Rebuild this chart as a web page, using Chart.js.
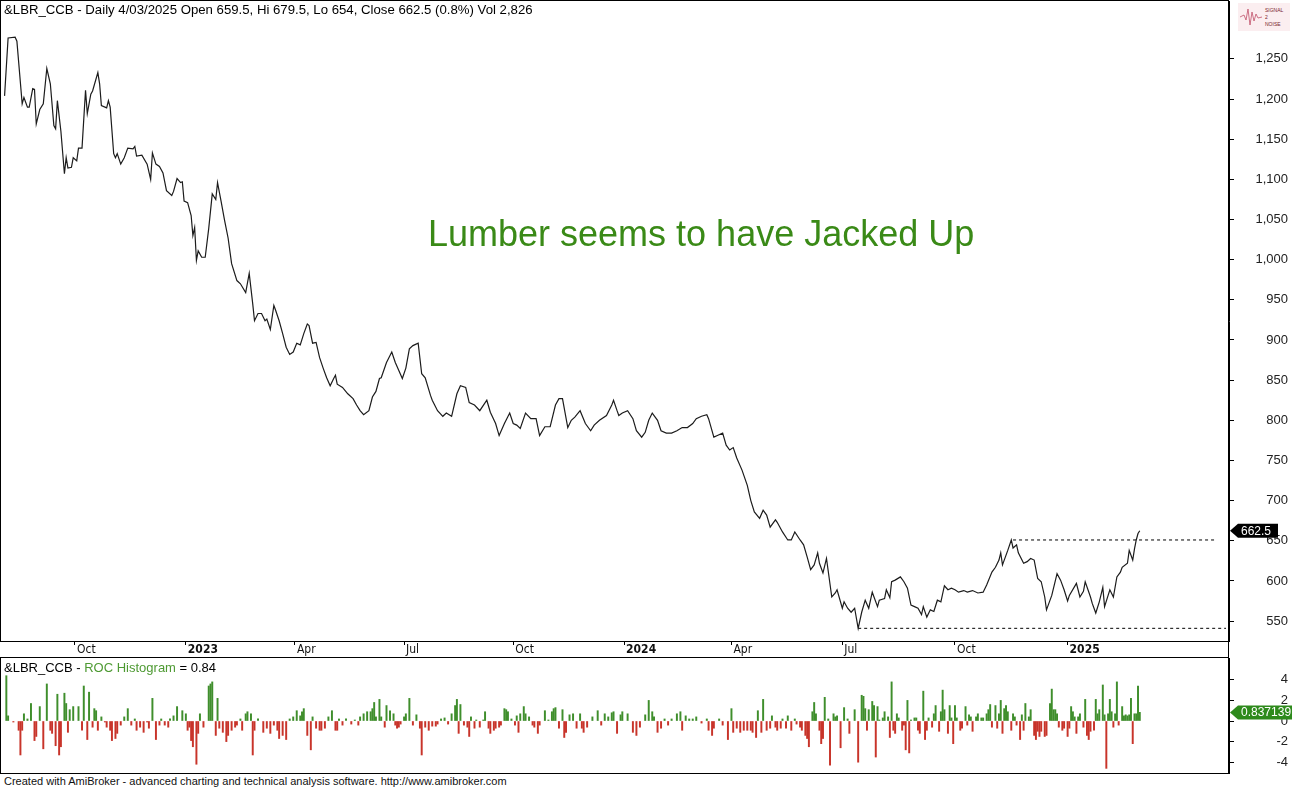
<!DOCTYPE html>
<html>
<head>
<meta charset="utf-8">
<title>&amp;LBR_CCB Daily</title>
<script src="https://cdn.jsdelivr.net/npm/chart.js@4.4.1/dist/chart.umd.min.js"></script>
<style>
  html, body { margin: 0; padding: 0; background: #fff; }
  body { width: 1292px; height: 789px; position: relative; overflow: hidden;
         font-family: "Liberation Sans", Arial, sans-serif; }
  #priceChart { position: absolute; left: 0; top: 0; }
  #rocChart { position: absolute; left: 0; top: 657px; }
  .txt { position: absolute; white-space: nowrap; color: #000; }
  #header { left: 4px; top: 2px; font-size: 13.2px; }
  #rocTitle { left: 4px; top: 660px; font-size: 13px; }
  #rocTitle .g { color: #4e9a33; }
  #note { left: 428px; top: 213px; font-size: 36px; color: #3a8a17; }
  #footer { left: 4px; top: 775px; font-size: 11px; color: #111; }
  #logo { position: absolute; left: 1238px; top: 3px; width: 52px; height: 28px; }
</style>
</head>
<body>
<canvas id="priceChart" width="1292" height="658"></canvas>
<canvas id="rocChart" width="1292" height="117"></canvas>

<div id="header" class="txt">&amp;LBR_CCB - Daily 4/03/2025 Open 659.5, Hi 679.5, Lo 654, Close 662.5 (0.8%) Vol 2,826</div>
<div id="rocTitle" class="txt">&amp;LBR_CCB - <span class="g">ROC Histogram</span> = 0.84</div>
<div id="note" class="txt">Lumber seems to have Jacked Up</div>
<div id="footer" class="txt">Created with AmiBroker - advanced charting and technical analysis software. http://www.amibroker.com</div>
<svg id="logo" viewBox="0 0 52 28">
  <rect x="0" y="0" width="52" height="28" fill="#fbeef0"/>
  <polyline points="2,14 6,12 8,17 10,6 12,22 14,9 16,18 18,11 20,15 24,14" fill="none" stroke="#c0506a" stroke-width="0.8"/>
  <text x="27" y="9" font-size="5" fill="#7a1c2c" font-family="Liberation Sans">SIGNAL</text>
  <text x="27" y="16" font-size="5" fill="#7a1c2c" font-family="Liberation Sans">2</text>
  <text x="27" y="23" font-size="5" fill="#7a1c2c" font-family="Liberation Sans">NOISE</text>
</svg>

<script>
// bars are trading days counted from 4 Aug 2022 (bar 0)
const xMin = -1.6;
const xMax = 696.7;

// first trading day of each quarter, and its label on the date axis
const monthTickBars = [41, 104, 166, 228, 290, 353, 414, 477, 541, 605];
const monthTickLabels = ['Oct', '2023', 'Apr', 'Jul', 'Oct', '2024', 'Apr', 'Jul', 'Oct', '2025'];

// closing price
const priceBars = [
  1, 3, 7, 8, 11, 12, 14, 15, 17, 18,
  19, 21, 23, 25, 27, 29, 30, 31, 33, 35,
  36, 37, 39, 40, 42, 43, 45, 47, 48, 50,
  51, 54, 55, 56, 59, 60, 61, 63, 64, 65,
  67, 69, 71, 74, 75, 76, 79, 82, 84, 85,
  87, 89, 91, 93, 96, 97, 99, 101, 102, 103,
  105, 107, 108, 109, 110, 111, 113, 115, 117, 119,
  121, 122, 124, 126, 128, 130, 133, 135, 138, 140,
  142, 143, 145, 147, 149, 150, 152, 154, 155, 157,
  159, 161, 163, 165, 167, 169, 171, 173, 174, 176,
  178, 180, 182, 184, 186, 188, 189, 190, 193, 196,
  199, 201, 203, 205, 208, 210, 212, 214, 215, 218,
  221, 223, 225, 227, 229, 231, 233, 236, 238, 240,
  243, 244, 247, 250, 252, 255, 258, 260, 263, 265,
  268, 271, 275, 277, 280, 282, 285, 288, 290, 292,
  294, 297, 300, 303, 305, 308, 311, 314, 316, 318,
  321, 323, 325, 328, 331, 334, 336, 339, 343, 346,
  347, 349, 350, 352, 355, 358, 360, 363, 365, 367,
  369, 372, 374, 377, 380, 383, 386, 389, 392, 394,
  397, 400, 401, 404, 406, 409, 411, 413, 415, 417,
  420, 423, 425, 427, 430, 432, 434, 436, 439, 440,
  443, 446, 448, 450, 453, 455, 457, 459, 461, 463,
  464, 466, 468, 471, 473, 474, 477, 478, 480, 482,
  484, 486, 488, 490, 492, 494, 497, 498, 501, 502,
  504, 505, 507, 510, 512, 514, 516, 518, 520, 522,
  523, 525, 527, 529, 531, 533, 535, 537, 539, 541,
  543, 546, 548, 551, 554, 557, 559, 562, 564, 566,
  567, 568, 571, 573, 574, 576, 577, 580, 582, 584,
  586, 588, 590, 592, 593, 596, 599, 601, 603, 605,
  606, 610, 612, 614, 615, 618, 619, 621, 623, 625,
  626, 629, 631, 633, 635, 636, 639, 640, 642, 643,
  644, 645, 646
];
const priceClose = [
  1204, 1276, 1277, 1272, 1194, 1202, 1190, 1190, 1213, 1212,
  1169, 1187, 1194, 1238, 1219, 1167, 1163, 1198, 1160, 1107,
  1127, 1114, 1115, 1127, 1123, 1139, 1139, 1211, 1182, 1206,
  1210, 1233, 1219, 1192, 1189, 1198, 1190, 1132, 1127, 1132,
  1119, 1127, 1139, 1138, 1141, 1129, 1130, 1119, 1100, 1133,
  1119, 1116, 1108, 1086, 1080, 1085, 1101, 1096, 1097, 1073,
  1071, 1055, 1030, 1040, 999, 1011, 1003, 1003, 1039, 1082,
  1075, 1096, 1073, 1049, 1027, 995, 974, 970, 959, 983,
  945, 924, 933, 933, 924, 926, 913, 943, 937, 924,
  908, 891, 882, 885, 896, 894, 908, 920, 918, 896,
  897, 878, 865, 853, 843, 852, 856, 845, 841, 833,
  827, 819, 812, 807, 812, 829, 836, 852, 853, 872,
  885, 872, 862, 852, 865, 889, 893, 896, 858, 853,
  831, 825, 812, 805, 809, 805, 833, 843, 841, 822,
  819, 812, 825, 810, 796, 781, 796, 809, 796, 794,
  790, 809, 802, 802, 781, 792, 792, 819, 827, 827,
  791, 800, 804, 812, 796, 787, 794, 800, 806, 819,
  825, 812, 806, 809, 812, 802, 787, 779, 785, 800,
  809, 800, 787, 784, 784, 787, 791, 791, 796, 802,
  805, 807, 802, 779, 781, 784, 769, 763, 766, 753,
  738, 719, 700, 686, 678, 688, 682, 667, 676, 673,
  661, 651, 651, 661, 651, 645, 630, 614, 620, 635,
  622, 610, 628, 580, 585, 589, 566, 574, 566, 561,
  566, 541, 561, 576, 566, 586, 568, 576, 578, 589,
  579, 599, 601, 605, 599, 591, 570, 568, 566, 558,
  568, 555, 564, 562, 576, 574, 594, 589, 591, 589,
  586, 588, 586, 588, 585, 586, 595, 611, 617, 626,
  635, 620, 638, 651, 641, 645, 635, 622, 624, 628,
  626, 603, 599, 580, 564, 582, 609, 601, 589, 575,
  582, 597, 580, 587, 599, 580, 572, 560, 574, 592,
  568, 589, 580, 605, 611, 617, 622, 638, 626, 640,
  651, 659, 662.5
];
const lastClose = 662.5;

// dotted levels: November high and July low
const resistanceLevel = 651;
const resistanceBars = [574, 689];
const supportLevel = 541;
const supportBars = [486, 695];

const priceTicks = [550, 600, 650, 700, 750, 800, 850, 900, 950, 1000, 1050, 1100, 1150, 1200, 1250];

// one-day rate of change (%)
const rocBars = [
  2, 3, 6, 9, 10, 11, 12, 14, 16, 18,
  19, 21, 23, 25, 27, 28, 30, 31, 32, 33,
  35, 36, 37, 38, 40, 43, 45, 46, 48, 49,
  51, 52, 53, 54, 56, 58, 59, 61, 62, 64,
  65, 67, 69, 71, 73, 75, 76, 78, 80, 82,
  83, 85, 87, 89, 90, 92, 94, 95, 97, 99,
  102, 104, 105, 106, 107, 108, 110, 111, 112, 114,
  117, 118, 119, 121, 122, 123, 125, 127, 128, 130,
  132, 133, 135, 136, 138, 139, 141, 142, 143, 145,
  148, 150, 152, 154, 156, 157, 159, 161, 163, 165,
  167, 169, 170, 171, 173, 175, 176, 178, 180, 181,
  183, 185, 187, 189, 190, 191, 193, 195, 198, 200,
  202, 203, 205, 207, 209, 210, 211, 212, 214, 215,
  217, 218, 220, 222, 223, 224, 225, 226, 228, 229,
  231, 233, 235, 237, 238, 240, 242,
  244, 246, 247, 249, 251, 253, 255, 257, 258, 259,
  260, 262, 264, 265, 266, 268, 269, 271, 273, 274,
  276, 277, 279, 280, 282, 283, 285, 286, 287, 289,
  291, 292, 293, 294, 296, 297, 299, 301, 302, 304,
  305, 308, 310, 312, 313, 314, 316, 318, 319, 320,
  322, 324, 326, 328, 329, 330, 332, 335, 338, 340,
  342, 344, 346, 347, 349, 351, 352, 355, 358, 360,
  362, 365, 367, 369, 370, 372, 374, 376, 378, 380,
  383, 385, 386, 388, 390, 392, 394, 397, 400, 401,
  403, 404, 407, 409, 412, 414, 415, 417, 419, 421,
  423, 425, 426, 428, 429, 431, 432, 434, 436, 437,
  439, 440, 442, 443, 445, 446, 448, 450, 451, 453,
  454, 456, 457, 458, 460, 461, 462, 464, 465, 466,
  467, 469, 470, 472, 473, 474, 476, 478, 480, 481,
  484, 486,
  488, 489, 490, 491, 492, 494, 495, 496, 497, 498,
  500, 501, 503, 504, 505, 506, 507, 508, 509, 511,
  512, 513, 514, 515, 516, 518, 519, 520, 521, 523,
  524, 525, 526, 528, 529, 530, 532, 533, 534, 535,
  537, 538, 539, 540, 541, 542, 544, 545, 547, 548,
  549, 550, 551, 553, 554, 556, 557, 559, 560, 561,
  562, 564, 565, 566, 567, 568, 569, 570, 571, 573,
  574, 575, 576, 578, 579, 580, 581, 583, 584, 586,
  587, 588, 589, 590, 592, 593, 595, 596, 597, 598,
  599, 600, 602, 603, 605, 606, 607, 608, 609, 610,
  611, 612, 614, 615, 616, 617, 618, 620, 621, 622,
  623, 625, 626, 627, 628, 629, 630, 631, 632, 633,
  634, 636, 637, 638, 639, 640, 641, 642, 643, 644,
  645, 646
];
const rocValues = [
  4.4, 0.5, -0.1, -0.9, -3.3, -0.9, 0.7, 0.2, 1.7, -1.9,
  -1.5, 1.4, -2.7, 3.6, -0.9, -1.2, -2.4, 2.6, -3.3, -2.5,
  2.7, 1.7, -1.1, 1.1, 1.4, 1.4, -0.9, 3.4, -1.8, 2.8,
  -0.6, 1.2, 1.0, -0.9, 0.4, -0.1, -0.6, -0.9, -1.9, -1.7,
  -1.2, -0.4, 0.4, 1.2, -0.4, 0.2, -0.9, -0.6, -1.1, -0.1,
  -0.7, 2.2, -1.8, -0.4, 0.2, -0.4, -0.6, 0.2, 0.5, 1.4,
  1.0, 0.7, -0.9, -0.6, -1.9, -2.5, -4.2, -1.2, 0.7, -0.6,
  3.4, 3.6, 3.8, -1.4, 2.2, -0.7, -1.1, -2.0, -1.4, -0.9,
  -0.6, -0.4, 0.2, -0.9, 0.7, 0.9, 0.7, -3.3, -0.9, 0.2,
  -1.1, -0.7, -1.2, -0.4, -0.9, -1.7, -1.4, -1.8, 0.2, 0.4,
  1.0, 0.5, 0.9, 1.2, -1.4, -2.8, 0.4, -0.7, -0.9, -0.9,
  -0.7, 0.4, 1.0, -0.9, -0.9, 0.2, -0.4, 0.2, -0.3, 0.1,
  -0.4, 0.4, 0.7, 0.9, 0.9, 1.2, 1.8, 0.4, 2.1, 0.4,
  -0.6, 1.5, 1.0, 0.7, -0.4, -0.7, -0.6, -0.3, 0.4, 0.7,
  2.2, -0.4, 0.6, -0.7, -3.3, -0.6, -0.9,
  -0.5, -0.5, -0.3, 0.2, 0.3, -0.3, 0.7, 1.5, 2.1, -1.2,
  1.6, -0.4, -0.6, -1.5, 0.4, -0.7, 0.1, -0.6, 0.1, 0.9,
  -0.7, -1.2, -0.9, -0.7, -0.6, -0.4, 1.2, 1.1, 0.9, 0.2,
  -0.4, 0.5, -1.1, 0.7, 1.4, 0.7, 0.4, -0.4, -0.6, -1.2,
  -0.4, 1.0, 0.1, 0.9, 1.2, 1.3, -0.7, 1.1, -1.6, -1.1,
  0.6, 0.7, -0.7, 0.7, -0.7, -1.1, -0.6, 0.4, 1.0, -0.4,
  0.7, 0.4, 0.8, 0.9, -1.2, 0.6, 0.9, 0.7, -1.1, -1.4,
  -0.6, 0.6, 2.0, 0.9, 0.4, -1.1, -0.7, 0.2, -0.4, 0.2,
  0.7, 0.9, -0.9, 0.5, 0.2, 0.2, 0.4, -0.2, 0.2, -0.9,
  -1.4, -0.7, 0.2, -0.4, -1.8, 1.2, -1.1, -0.7, -1.1, -0.9,
  -0.9, -0.9, -1.1, -1.6, 1.0, -1.1, 2.1, -0.9, -0.7, 0.5,
  -0.6, -0.9, -0.7, 0.2, -0.7, 0.5, -0.9, 0.2, -0.3, -0.6,
  -0.9, -1.4, -1.7, -2.5, 0.9, 1.8, 0.7, -0.9, -2.2, -1.7,
  2.3, 0.2, -4.3, 0.7, 0.4, 0.5, -2.6, 1.3, 0.2, -1.2,
  1.1, -4.0,
  2.5, 2.4, 1.2, -0.9, 1.1, 1.9, 1.5, -3.5, 1.4, 0.1,
  0.3, 0.9, 0.4, -1.6, 3.8, -0.9, -1.2, 0.7, 0.3, -0.9,
  -0.4, -2.8, 2.0, -3.1, 0.1, 0.3, 0.3, -0.9, -1.2, 2.9,
  -1.8, -0.9, 0.3, -0.6, 0.7, 1.5, -1.0, 0.9, 3.0, 1.1,
  -1.2, 1.5, 0.3, -2.2, 1.5, 0.3, -0.9, -0.7, 1.4, -0.4,
  0.6, 0.4, -1.0, 0.4, 0.7, 0.3, 0.3, 0.7, 1.1, 1.6,
  -0.6, 1.5, -0.7, 0.7, 2.0, -1.2, 1.2, 1.5, 0.9, -0.9,
  0.7, 0.4, -0.4, -1.8, 0.6, -0.9, 1.7, 0.4, 1.1, -1.4,
  -1.8, -1.0, -1.5, -1.0, -1.5, -1.4, 1.7, 3.1, 1.1, 1.1,
  0.7, -0.6, -0.9, -0.7, -1.5, -0.7, 1.4, 0.9, 0.4, -1.2,
  0.4, 0.7, -0.6, 2.1, -1.4, -1.8, -1.0, -0.9, 2.1, 0.7,
  1.1, 3.5, 0.6, -4.6, 0.7, 2.1, 0.9, -0.6, 0.7, 3.8,
  -0.4, 1.4, 0.5, 0.6, 0.5, 0.6, 2.2, -2.2, 0.7, 0.7,
  3.4, 0.84
];
const lastRoc = 0.837139;
const rocTicks = [-4, -2, 0, 2, 4];

const upColor = '#3f8e2c';
const downColor = '#c8342a';
const axisFont = { family: '"Liberation Sans", Arial, sans-serif', size: 13 };
const dateFont = '"DejaVu Sans Condensed", "Liberation Sans Narrow", "Arial Narrow", sans-serif';

// no label padding above/below the value axes, the plot fills the pane
function fitRightAxis(s) {
  s.width = 59;
  s.paddingTop = 0;
  s.paddingBottom = 0;
}

// black frame around the plot area, plus the right border running down
const paneFrame = {
  id: 'paneFrame',
  afterDraw(chart) {
    const { ctx, chartArea: a } = chart;
    ctx.save();
    ctx.strokeStyle = '#000';
    ctx.lineWidth = 1;
    ctx.strokeRect(Math.round(a.left) + 0.5, Math.round(a.top) - 0.5,
                   Math.round(a.right - a.left) - 1, Math.round(a.bottom - a.top) + 1);
    ctx.beginPath();
    ctx.moveTo(Math.round(a.right) - 0.5, 0);
    ctx.lineTo(Math.round(a.right) - 0.5, chart.height);
    ctx.stroke();
    ctx.restore();
  }
};

// value tag on the right axis
const valueTag = {
  id: 'valueTag',
  afterDraw(chart, args, opts) {
    const { ctx, chartArea: a } = chart;
    const y = chart.scales.y.getPixelForValue(opts.value);
    const x = a.right + 1;
    ctx.save();
    ctx.fillStyle = opts.color;
    ctx.beginPath();
    ctx.moveTo(x, y);
    ctx.lineTo(x + 8, y - 7);
    ctx.lineTo(x + opts.width, y - 7);
    ctx.lineTo(x + opts.width, y + 7);
    ctx.lineTo(x + 8, y + 7);
    ctx.closePath();
    ctx.fill();
    ctx.fillStyle = '#fff';
    ctx.font = '12px "Liberation Sans", Arial, sans-serif';
    ctx.textBaseline = 'middle';
    ctx.fillText(opts.text, x + 11, y + 0.5);
    ctx.restore();
  }
};

const pricePoints = priceBars.map((b, i) => ({ x: b, y: priceClose[i] }));
const rocPoints = rocBars.map((b, i) => ({ x: b, y: rocValues[i] }));

new Chart(document.getElementById('priceChart'), {
  type: 'line',
  data: {
    datasets: [
      {
        label: 'Close',
        data: pricePoints,
        borderColor: '#1c1c1c',
        borderWidth: 1.2,
        pointRadius: 0,
        tension: 0
      },
      {
        label: 'Resistance',
        data: resistanceBars.map(b => ({ x: b, y: resistanceLevel })),
        borderColor: '#000',
        borderWidth: 1,
        borderDash: [3, 3],
        pointRadius: 0
      },
      {
        label: 'Support',
        data: supportBars.map(b => ({ x: b, y: supportLevel })),
        borderColor: '#000',
        borderWidth: 1,
        borderDash: [3, 3],
        pointRadius: 0
      }
    ]
  },
  options: {
    responsive: false,
    animation: false,
    devicePixelRatio: 1,
    layout: { padding: { top: 1, left: 0, right: 4, bottom: 0 } },
    plugins: {
      legend: { display: false },
      tooltip: { enabled: false },
      valueTag: { value: lastClose, text: '662.5', color: '#000', width: 48 }
    },
    scales: {
      x: {
        type: 'linear',
        min: xMin,
        max: xMax,
        offset: false,
        afterBuildTicks: s => { s.ticks = monthTickBars.map(v => ({ value: v })); },
        afterFit: s => { s.height = 17; s.paddingLeft = 0; s.paddingRight = 0; },
        ticks: {
          autoSkip: false,
          maxRotation: 0,
          align: 'start',
          labelOffset: 2,
          padding: -2,
          color: '#111',
          callback: (v, i) => monthTickLabels[i],
          font: c => ({
            family: dateFont,
            size: 12,
            weight: /^\d{4}$/.test(monthTickLabels[c.index]) ? 'bold' : 'normal'
          })
        },
        grid: { drawOnChartArea: false, tickLength: 4, color: '#000' },
        border: { display: true, color: '#000' }
      },
      y: {
        position: 'right',
        min: 525.2,
        max: 1322.1,
        afterBuildTicks: s => { s.ticks = priceTicks.map(v => ({ value: v })); },
        afterFit: fitRightAxis,
        ticks: {
          crossAlign: 'far',
          color: '#222',
          font: axisFont,
          callback: v => v.toLocaleString('en-US')
        },
        grid: { drawOnChartArea: false, tickLength: 5, color: '#000' },
        border: { display: true, color: '#000' }
      }
    }
  },
  plugins: [paneFrame, valueTag]
});

new Chart(document.getElementById('rocChart'), {
  type: 'bar',
  data: {
    datasets: [{
      label: 'ROC',
      data: rocPoints,
      backgroundColor: c => (c.raw && c.raw.y < 0 ? downColor : upColor),
      barThickness: 1.3,
      borderWidth: 0
    }]
  },
  options: {
    responsive: false,
    animation: false,
    devicePixelRatio: 1,
    layout: { padding: { top: 1, left: 0, right: 4, bottom: 1 } },
    plugins: {
      legend: { display: false },
      tooltip: { enabled: false },
      valueTag: { value: lastRoc, text: '0.837139', color: '#2e8a1c', width: 70 }
    },
    scales: {
      x: { type: 'linear', min: xMin, max: xMax, offset: false, display: false },
      y: {
        position: 'right',
        min: -5.05,
        max: 6.12,
        afterBuildTicks: s => { s.ticks = rocTicks.map(v => ({ value: v })); },
        afterFit: fitRightAxis,
        ticks: { crossAlign: 'far', color: '#222', font: axisFont },
        grid: { drawOnChartArea: false, tickLength: 5, color: '#000' },
        border: { display: true, color: '#000' }
      }
    }
  },
  plugins: [paneFrame, valueTag]
});
</script>
</body>
</html>
